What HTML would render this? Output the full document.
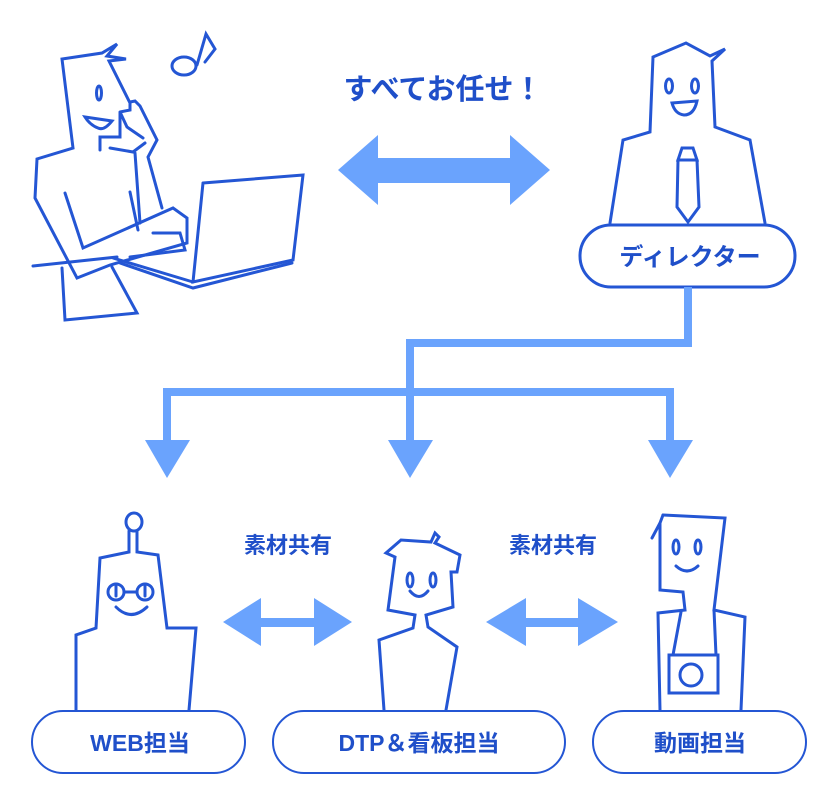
<!DOCTYPE html>
<html><head><meta charset="utf-8"><style>
body{margin:0;background:#fff;}
svg{display:block;}
text{font-family:"Liberation Sans","Noto Sans CJK JP",sans-serif;fill:#1f4fc9;}
</style></head><body>
<svg width="840" height="800" viewBox="0 0 840 800" xmlns="http://www.w3.org/2000/svg">
<g fill="none" stroke="#2456d4" stroke-width="3" stroke-linejoin="miter" stroke-linecap="round">
<!-- person 1 -->
<polyline points="130,103 109,61 126,59 107,56 117,44 102,53 62,59 73,148 37,159 35,198 77,278 110,265 187,243 187,218 173,208 83,248 65,193"/>
<polyline points="120,112 130,110 130,102 135,101 140,106 157,140 148,157 162,208"/>
<polyline points="100,150 100,137 120,137 120,112 127,127 143,138"/>
<polyline points="110,148 133,152 145,143"/>
<line x1="135" y1="153" x2="140" y2="223"/>
<line x1="130" y1="192" x2="138" y2="230"/>
<ellipse cx="99" cy="93" rx="2.5" ry="7"/>
<path d="M85,117 L112,121 Q104,131 98,128 Q90,125 85,117Z"/>
<line x1="33" y1="266" x2="117" y2="257"/>
<polyline points="62,268 65,320 137,313 112,267"/>
<polyline points="203,183 303,175 293,260 193,282 203,183"/>
<polyline points="120,263 193,288 292,263"/>
<polyline points="113,258 193,282"/>
<polyline points="153,233 180,233 185,250 130,257"/>
<ellipse cx="184" cy="66" rx="12" ry="9"/>
<polyline points="197,65 206,34 215,49 205,62"/>
<!-- director -->
<polyline points="610,223 623,140 650,132 653,57 686,43 710,56 725,49 712,61 715,127 750,140 765,223"/>
<ellipse cx="669" cy="86" rx="3.5" ry="7"/>
<ellipse cx="695" cy="86" rx="3.5" ry="7"/>
<path d="M672,103 L697,101 Q694,115 684,115 Q675,114 672,103Z"/>
<polygon points="682,148 693,148 697,160 678,160"/>
<polyline points="678,160 677,207 688,222 699,207 697,160"/>
<rect x="580" y="225" width="215" height="62" rx="31" fill="#fff"/>
<!-- robot -->
<ellipse cx="134" cy="522" rx="8" ry="9"/>
<polyline points="76,710 76,635 96,628 100,558 129,552 129,531"/>
<polyline points="137,531 137,552 158,555 167,628 196,628 189,710"/>
<circle cx="116" cy="592" r="8"/><circle cx="145" cy="592" r="8"/>
<line x1="124" y1="592" x2="137" y2="592"/>
<line x1="116" y1="584" x2="116" y2="596"/><line x1="145" y1="584" x2="145" y2="596"/>
<path d="M116,607 Q131,622 147,607"/>
<!-- DTP -->
<polyline points="384,710 379,640 413,628 415,615 388,610 395,557 386,553 401,540 431,542 435,533 439,537 435,543 460,555 457,572 451,572 453,607 426,615 428,627 457,647 446,710"/>
<ellipse cx="410" cy="580" rx="3" ry="7"/><ellipse cx="433" cy="580" rx="3" ry="7"/>
<path d="M410,591 Q419,602 428,591"/>
<!-- camera -->
<polyline points="652,538 660,523 660,590 683,592 685,610 658,613 660,710"/>
<polyline points="663,515 725,518 714,610 745,617 741,710"/>
<line x1="663" y1="515" x2="660" y2="523"/>
<line x1="681" y1="612" x2="673" y2="655"/>
<line x1="714" y1="610" x2="716" y2="655"/>
<rect x="669" y="655" width="49" height="38"/>
<circle cx="691" cy="675" r="11"/>
<ellipse cx="676" cy="547" rx="3" ry="7"/><ellipse cx="698" cy="547" rx="3" ry="7"/>
<path d="M676,566 Q687,576 698,566"/>
<!-- pills -->
<rect x="32" y="711" width="213" height="62" rx="31" fill="#fff" stroke-width="2"/>
<rect x="273" y="711" width="292" height="62" rx="31" fill="#fff" stroke-width="2"/>
<rect x="593" y="711" width="213" height="62" rx="31" fill="#fff" stroke-width="2"/>
</g>
<g fill="#6aa3fd">
<polygon points="338,170 378,135 378,158 510,158 510,135 550,170 510,205 510,183 378,183 378,205"/>
<polygon points="223,622 261,598 261,618 314,618 314,598 352,622 314,646 314,627 261,627 261,646"/>
<polygon points="486,622 526,598 526,618 578,618 578,598 618,622 578,646 578,627 526,627 526,646"/>
<rect x="684" y="287" width="8" height="60"/>
<rect x="406" y="339" width="286" height="8"/>
<rect x="406" y="339" width="8" height="102"/>
<rect x="163" y="388" width="511" height="8"/>
<rect x="163" y="388" width="8" height="53"/>
<rect x="666" y="388" width="8" height="53"/>
<polygon points="145,440 190,440 167,478"/>
<polygon points="388,440 433,440 410,478"/>
<polygon points="648,440 693,440 670,478"/>
</g>
<text x="443" y="99" font-size="29" font-weight="bold" text-anchor="middle">すべてお任せ！</text>
<text x="288" y="553" font-size="22" font-weight="bold" text-anchor="middle">素材共有</text>
<text x="553" y="553" font-size="22" font-weight="bold" text-anchor="middle">素材共有</text>
<text x="690" y="265" font-size="24" font-weight="bold" text-anchor="middle">ディレクター</text>
<text x="140" y="751" font-size="23" font-weight="bold" text-anchor="middle">WEB担当</text>
<text x="419" y="751" font-size="23" font-weight="bold" text-anchor="middle">DTP＆看板担当</text>
<text x="700" y="751" font-size="23" font-weight="bold" text-anchor="middle">動画担当</text>
</svg>
</body></html>
